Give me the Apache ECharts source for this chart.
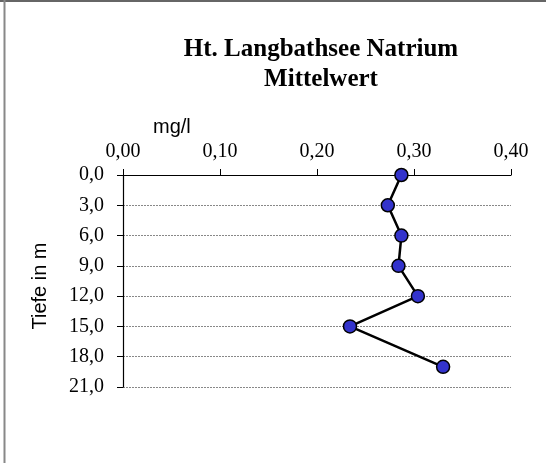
<!DOCTYPE html>
<html>
<head>
<meta charset="utf-8">
<script src="https://cdn.jsdelivr.net/npm/echarts@6/dist/echarts.min.js"></script>
<style>
html, body { margin: 0; padding: 0; background: #fff; }
#chart { width: 546px; height: 463px; }
</style>
</head>
<body>
<div id="chart"></div>
<script>
// Natrium (mg/l) je Tiefe (m)
var natrium = [0.287, 0.273, 0.287, 0.284, 0.304, 0.234, 0.330];
var tiefe = [0, 3, 6, 9, 12, 15, 19];

var chart = echarts.init(document.getElementById('chart'), null, { renderer: 'canvas' });

var serif = '"Liberation Serif", "Times New Roman", serif';
var sans = '"Liberation Sans", Arial, sans-serif';

function komma(v, d) {
    return v.toFixed(d).replace('.', ',');
}

chart.setOption({
    backgroundColor: '#fff',
    animation: false,
    title: {
        text: 'Ht. Langbathsee Natrium\nMittelwert',
        left: 316,
        top: 30,
        textAlign: 'center',
        textStyle: {
            fontFamily: serif,
            fontSize: 25,
            fontWeight: 'bold',
            lineHeight: 30,
            color: '#000'
        }
    },
    graphic: [
        // Rahmen oben und links
        { type: 'line', shape: { x1: 0, y1: 1, x2: 546, y2: 1 }, style: { stroke: '#333', lineWidth: 1.5 } },
        { type: 'line', shape: { x1: 4.5, y1: 0, x2: 4.5, y2: 463 }, style: { stroke: '#888', lineWidth: 2 } },
        {
            type: 'text', left: 153, top: 117,
            style: { text: 'mg/l', fontFamily: sans, fontSize: 20, fill: '#000' }
        }
    ],
    grid: {
        left: 123,
        right: 35,
        top: 175,
        bottom: 76
    },
    xAxis: {
        type: 'value',
        position: 'top',
        min: 0,
        max: 0.4,
        interval: 0.1,
        axisLine: { show: true, lineStyle: { color: '#000', width: 1.2 } },
        axisTick: { show: true, inside: false, length: 6, lineStyle: { color: '#000' } },
        axisLabel: {
            margin: 13,
            fontFamily: serif,
            fontSize: 20,
            color: '#000',
            formatter: function (v) { return komma(v, 2); }
        },
        splitLine: { show: false }
    },
    yAxis: {
        type: 'value',
        inverse: true,
        min: 0,
        max: 21,
        interval: 3,
        name: 'Tiefe in m',
        nameLocation: 'middle',
        nameGap: 73,
        nameRotate: 90,
        nameTextStyle: { fontFamily: sans, fontSize: 20, color: '#000', padding: [0, 10, 0, 0] },
        axisLine: { show: true, lineStyle: { color: '#000', width: 1.2 } },
        axisTick: { show: true, length: 6, lineStyle: { color: '#000' } },
        axisLabel: {
            margin: 19,
            fontFamily: serif,
            fontSize: 20,
            color: '#000',
            formatter: function (v) { return komma(v, 1); }
        },
        splitLine: {
            show: true,
            lineStyle: { color: '#888', type: [2, 1], width: 1 }
        }
    },
    series: [{
        type: 'line',
        data: natrium.map(function (v, i) { return [v, tiefe[i]]; }),
        symbol: 'circle',
        symbolSize: 13,
        itemStyle: { color: '#3333cc', borderColor: '#000', borderWidth: 1.5 },
        lineStyle: { color: '#000', width: 2.5 }
    }]
});
</script>
</body>
</html>
